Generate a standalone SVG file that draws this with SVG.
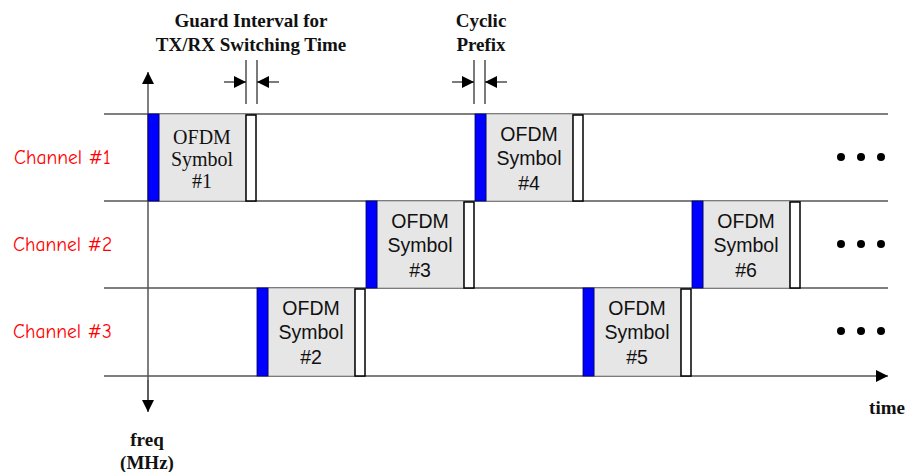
<svg xmlns="http://www.w3.org/2000/svg" width="906" height="472" viewBox="0 0 906 472">
  <style>
    .axis { stroke: #555; stroke-width: 1.5; fill: none; }
    .grid { stroke: #555; stroke-width: 1.5; }
    .tick { stroke: #222; stroke-width: 1.2; }
    .cp { fill: #0000ff; stroke: #000060; stroke-width: 0.8; }
    .body { fill: #e6e6e6; stroke: #777; stroke-width: 0.6; }
    .gi { fill: #ffffff; stroke: #000; stroke-width: 1.5; }
    .sym { font-family: "Liberation Sans", Arial, sans-serif; font-size: 19.5px; fill: #111; text-anchor: middle; }
    .symserif { font-family: "Liberation Serif", "Times New Roman", serif; font-size: 20px; fill: #111; text-anchor: middle; }
    .note { font-family: "Liberation Serif", "Times New Roman", serif; font-size: 19px; font-weight: bold; fill: #111; text-anchor: middle; }
    .chan { font-family: "Comic Sans MS", "Comic Neue", "DejaVu Sans", cursive, sans-serif; font-size: 19.5px; fill: #ff0000; }
    .dot { fill: #000; }
  </style>
  <defs>
    <marker id="ah" viewBox="0 0 10 10" refX="10" refY="5" markerWidth="12" markerHeight="12" markerUnits="userSpaceOnUse" orient="auto">
      <path d="M0,0 L10,5 L0,10 z" fill="#000"/>
    </marker>
  </defs>

  <!-- channel row boundaries and axes -->
  <g id="connectors">
    <line class="grid" x1="104" y1="114" x2="888" y2="114"/>
    <line class="grid" x1="104" y1="201" x2="888" y2="201"/>
    <line class="grid" x1="104" y1="288" x2="888" y2="288"/>
    <line class="axis" x1="104" y1="376" x2="888" y2="376" marker-end="url(#ah)"/>
    <line class="axis" x1="148" y1="400" x2="148" y2="72" marker-end="url(#ah)"/>
    <line class="axis" x1="148" y1="380" x2="148" y2="412" marker-end="url(#ah)"/>

    <!-- guard interval markers -->
    <line class="tick" x1="246" y1="60" x2="246" y2="104"/>
    <line class="tick" x1="257" y1="60" x2="257" y2="104"/>
    <line class="tick" x1="224" y1="82" x2="246" y2="82" marker-end="url(#ah)"/>
    <line class="tick" x1="279" y1="82" x2="257" y2="82" marker-end="url(#ah)"/>

    <!-- cyclic prefix markers -->
    <line class="tick" x1="474" y1="60" x2="474" y2="104"/>
    <line class="tick" x1="485" y1="60" x2="485" y2="104"/>
    <line class="tick" x1="452" y1="82" x2="474" y2="82" marker-end="url(#ah)"/>
    <line class="tick" x1="507" y1="82" x2="485" y2="82" marker-end="url(#ah)"/>
  </g>

  <!-- annotations -->
  <g id="labels">
    <text class="note" x="251" y="27">Guard Interval for</text>
    <text class="note" x="251" y="51">TX/RX Switching Time</text>
    <text class="note" x="481" y="27">Cyclic</text>
    <text class="note" x="481" y="51">Prefix</text>
    <text class="note" x="147" y="446">freq</text>
    <text class="note" x="147" y="469">(MHz)</text>
    <text class="note" x="887" y="414">time</text>
    <text class="chan" x="14" y="164">Channel #1</text>
    <text class="chan" x="13" y="251">Channel #2</text>
    <text class="chan" x="13" y="338">Channel #3</text>
  </g>

  <!-- OFDM symbols -->
  <g id="symbol1">
    <rect class="body" x="159" y="114" width="87" height="87"/>
    <rect class="cp" x="148" y="114" width="11" height="87"/>
    <rect class="gi" x="246" y="115" width="10" height="86"/>
    <text class="symserif" x="202" y="144">OFDM</text>
    <text class="symserif" x="202" y="166">Symbol</text>
    <text class="symserif" x="202" y="188">#1</text>
  </g>
  <g id="symbol2">
    <rect class="body" x="268" y="288" width="87" height="88"/>
    <rect class="cp" x="257" y="288" width="11" height="88"/>
    <rect class="gi" x="355" y="289" width="10" height="87"/>
    <text class="sym" x="311" y="315">OFDM</text>
    <text class="sym" x="311" y="339">Symbol</text>
    <text class="sym" x="311" y="364">#2</text>
  </g>
  <g id="symbol3">
    <rect class="body" x="377" y="201" width="87" height="87"/>
    <rect class="cp" x="366" y="201" width="11" height="87"/>
    <rect class="gi" x="464" y="202" width="10" height="86"/>
    <text class="sym" x="420" y="228">OFDM</text>
    <text class="sym" x="420" y="252">Symbol</text>
    <text class="sym" x="420" y="277">#3</text>
  </g>
  <g id="symbol4">
    <rect class="body" x="486" y="114" width="87" height="87"/>
    <rect class="cp" x="475" y="114" width="11" height="87"/>
    <rect class="gi" x="573" y="115" width="10" height="86"/>
    <text class="sym" x="529" y="141">OFDM</text>
    <text class="sym" x="529" y="165">Symbol</text>
    <text class="sym" x="529" y="190">#4</text>
  </g>
  <g id="symbol5">
    <rect class="body" x="594" y="288" width="87" height="88"/>
    <rect class="cp" x="583" y="288" width="11" height="88"/>
    <rect class="gi" x="681" y="289" width="10" height="87"/>
    <text class="sym" x="637" y="315">OFDM</text>
    <text class="sym" x="637" y="339">Symbol</text>
    <text class="sym" x="637" y="364">#5</text>
  </g>
  <g id="symbol6">
    <rect class="body" x="703" y="201" width="87" height="87"/>
    <rect class="cp" x="692" y="201" width="11" height="87"/>
    <rect class="gi" x="790" y="202" width="10" height="86"/>
    <text class="sym" x="746" y="228">OFDM</text>
    <text class="sym" x="746" y="252">Symbol</text>
    <text class="sym" x="746" y="277">#6</text>
  </g>

  <!-- continuation dots -->
  <g id="ellipsis1">
    <circle class="dot" cx="841" cy="157" r="4"/>
    <circle class="dot" cx="861" cy="157" r="4"/>
    <circle class="dot" cx="881" cy="157" r="4"/>
  </g>
  <g id="ellipsis2">
    <circle class="dot" cx="841" cy="244" r="4"/>
    <circle class="dot" cx="861" cy="244" r="4"/>
    <circle class="dot" cx="881" cy="244" r="4"/>
  </g>
  <g id="ellipsis3">
    <circle class="dot" cx="841" cy="331" r="4"/>
    <circle class="dot" cx="861" cy="331" r="4"/>
    <circle class="dot" cx="881" cy="331" r="4"/>
  </g>
</svg>
